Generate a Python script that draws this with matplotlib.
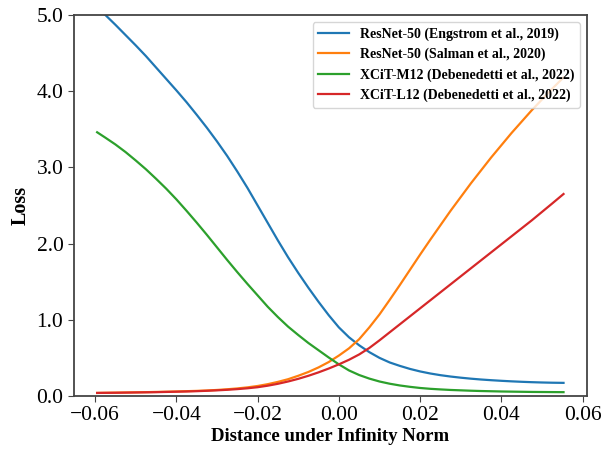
"""Loss along a line in the infinity-norm ball for four robust models."""

from matplotlib import pyplot as plt

# data
distance = [-0.0595, -0.0575, -0.055, -0.0525, -0.05, -0.0475, -0.045, -0.0425,
            -0.04, -0.0375, -0.035, -0.0325, -0.03, -0.0275, -0.025, -0.0225,
            -0.02, -0.0175, -0.015, -0.0125, -0.01, -0.0075, -0.005, -0.0025,
            0.0, 0.0025, 0.005, 0.0075, 0.01, 0.0125, 0.015, 0.0175,
            0.02, 0.0225, 0.025, 0.0275, 0.03, 0.0325, 0.035, 0.0375,
            0.04, 0.0425, 0.045, 0.0475, 0.05, 0.0525, 0.0553]

loss_engstrom = [5.10, 5.00, 4.87, 4.735, 4.60, 4.46, 4.31, 4.16,
                 4.01, 3.855, 3.69, 3.52, 3.34, 3.15, 2.945, 2.73,
                 2.50, 2.27, 2.04, 1.82, 1.615, 1.42, 1.235, 1.06,
                 0.90, 0.77, 0.665, 0.575, 0.50, 0.44, 0.395, 0.355,
                 0.322, 0.295, 0.273, 0.255, 0.24, 0.227, 0.216, 0.207,
                 0.199, 0.192, 0.186, 0.181, 0.177, 0.174, 0.172]
loss_salman = [0.040, 0.042, 0.044, 0.046, 0.048, 0.050, 0.053, 0.056,
               0.059, 0.063, 0.067, 0.072, 0.079, 0.088, 0.099, 0.113,
               0.131, 0.155, 0.185, 0.22, 0.265, 0.315, 0.375, 0.445,
               0.53, 0.625, 0.745, 0.90, 1.07, 1.26, 1.455, 1.655,
               1.855, 2.05, 2.24, 2.43, 2.61, 2.79, 2.96, 3.13,
               3.29, 3.45, 3.60, 3.75, 3.89, 4.03, 4.18]
loss_xcit_m12 = [3.46, 3.39, 3.30, 3.20, 3.09, 2.975, 2.85, 2.72,
                 2.58, 2.43, 2.275, 2.115, 1.95, 1.785, 1.625, 1.47,
                 1.32, 1.17, 1.035, 0.91, 0.80, 0.695, 0.60, 0.505,
                 0.415, 0.335, 0.275, 0.228, 0.19, 0.161, 0.138, 0.12,
                 0.105, 0.094, 0.086, 0.079, 0.074, 0.069, 0.065, 0.062,
                 0.059, 0.057, 0.055, 0.053, 0.052, 0.051, 0.05]
loss_xcit_l12 = [0.040, 0.041, 0.042, 0.044, 0.046, 0.048, 0.050, 0.053,
                 0.056, 0.059, 0.063, 0.068, 0.074, 0.081, 0.090, 0.101,
                 0.115, 0.135, 0.16, 0.19, 0.225, 0.265, 0.31, 0.36,
                 0.415, 0.475, 0.545, 0.63, 0.73, 0.835, 0.94, 1.045,
                 1.15, 1.255, 1.36, 1.465, 1.57, 1.675, 1.78, 1.885,
                 1.99, 2.095, 2.20, 2.305, 2.415, 2.525, 2.65]

labels = ["ResNet-50 (Engstrom et al., 2019)",
          "ResNet-50 (Salman et al., 2020)",
          "XCiT-M12 (Debenedetti et al., 2022)",
          "XCiT-L12 (Debenedetti et al., 2022)"]
y_ticks = [0.0, 1.0, 2.0, 3.0, 4.0, 5.0]
x_ticks = [-0.06, -0.04, -0.02, 0.0, 0.02, 0.04, 0.06]

plt.rcParams['font.family'] = ['Liberation Serif', 'DejaVu Serif']

fig = plt.figure(figsize=(6.05, 4.51), dpi=100)
ax = fig.add_axes([0.122, 0.122, 0.848, 0.845])

series = [loss_engstrom, loss_salman, loss_xcit_m12, loss_xcit_l12]
colors = ["#1f77b4", "#ff7f0e", "#2ca02c", "#d62728"]
for values, label, color in zip(series, labels, colors):
    ax.plot(distance, values, color=color, linewidth=1.6, label=label)

ax.set_ylim(0, 5)
ax.set_yticks(y_ticks)
ax.set_yticklabels([f"{v:.1f}" for v in y_ticks])
ax.set_xticks(x_ticks)
ax.set_xticklabels([f"{v:.2f}".replace("-", "\u2212") for v in x_ticks])
ax.tick_params(labelsize=15.5, color="#444444", length=4)
for spine in ax.spines.values():
    spine.set_color("#444444")
    spine.set_linewidth(1.3)

ax.set_xlabel("Distance under Infinity Norm", fontsize=13.5, fontweight="bold",
              labelpad=2)
ax.set_ylabel("Loss", fontsize=14.5, fontweight="bold")
ax.legend(loc="upper right", prop={'weight': 'bold', 'size': 10},
          handlelength=2.2)

fig.savefig("out.png")
plt.close(fig)
